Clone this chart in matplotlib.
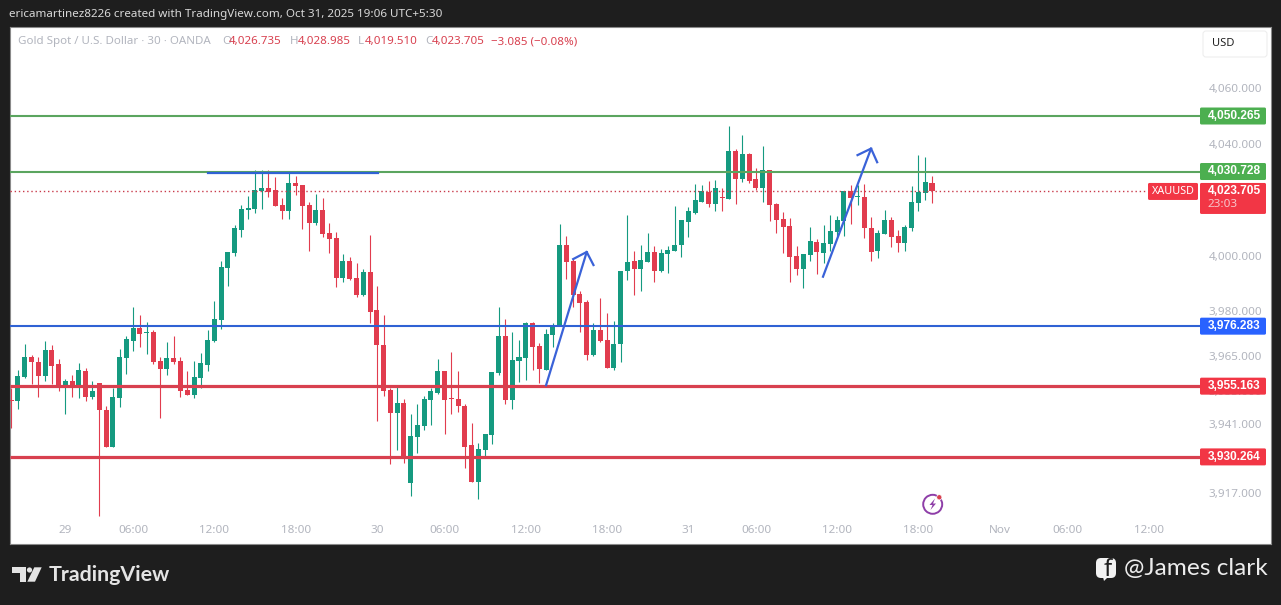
import matplotlib
matplotlib.use("Agg")
from matplotlib import pyplot as plt
from matplotlib.patches import FancyBboxPatch, Circle, Polygon, Rectangle

plt.rcParams['font.family'] = ['Noto Sans', 'DejaVu Sans']

opens = [3950.1,3949.8,3958.3,3965.5,3963.7,3958.8,3967.9,3963.0,3954.6,3956.9,3955.6,3960.5,3951.4,3956.2,3946.8,3933.9,3951.0,3965.1,3971.1,3975.7,3974.0,3974.3,3964.1,3961.3,3965.1,3964.1,3953.9,3952.1,3958.1,3962.7,
         3971.0,3978.5,3996.8,4002.1,4010.2,4017.2,4017.6,4024.0,4025.0,4024.2,4019.0,4016.9,4026.7,4026.0,4019.0,4012.6,4017.2,4009.1,4007.4,3993.3,3999.3,3993.3,3987.3,3995.4,3982.0,3969.7,3953.9,3945.8,3949.3,3921.1,
         3937.3,3941.2,3950.3,3952.8,3960.5,3950.7,3950.7,3948.2,3934.5,3921.5,3932.7,3938.0,3959.7,3972.9,3950.3,3964.1,3965.1,3977.4,3969.3,3960.9,3973.2,3976.7,4004.9,3999.3,3987.6,3984.8,3966.2,3975.0,3971.5,3961.6,
         3970.0,3995.7,3999.3,3996.4,3998.9,4002.4,3995.7,4001.7,4002.8,4004.9,4013.0,4016.2,4020.0,4023.5,4019.3,4021.6,4021.1,4038.0,4028.1,4036.9,4028.1,4024.9,4031.3,4019.3,4014.0,4011.6,4001.0,3996.4,4001.4,4005.9,
         4002.1,4005.2,4009.5,4013.3,4023.9,4021.6,4021.8,4010.9,4002.8,4008.8,4013.7,4008.1,4005.6,4010.9,4019.7,4023.2,4026.735]
highs = [3954.4,3960.9,3970.0,3966.2,3965.6,3971.1,3969.7,3964.7,3957.6,3959.1,3963.2,3961.5,3956.9,3956.4,3948.2,3954.4,3968.2,3972.9,3983.1,3980.3,3977.7,3975.0,3965.5,3970.8,3972.9,3965.5,3960.5,3964.1,3966.9,3975.0,
         3985.2,3999.3,4002.4,4011.8,4019.0,4022.1,4031.3,4031.3,4031.3,4028.8,4021.4,4030.7,4029.2,4026.0,4020.0,4022.8,4021.4,4012.6,4009.5,4001.7,4000.7,3998.6,3996.4,4008.4,3990.5,3980.3,3954.6,3954.9,3950.7,3945.4,
         3948.9,3951.8,3954.6,3964.8,3960.5,3967.2,3960.5,3948.9,3942.2,3935.2,3938.4,3960.2,3983.1,3978.8,3974.3,3971.5,3977.8,3977.8,3970.4,3975.3,3977.4,4012.3,4008.0,4000.0,3988.7,3985.5,3977.4,3986.2,3981.0,3978.1,
         3995.7,4015.4,4002.8,4004.9,4009.1,4004.5,4003.5,4004.5,4018.6,4013.7,4018.3,4026.4,4026.0,4027.4,4027.8,4024.9,4046.8,4038.7,4043.6,4037.3,4032.0,4039.7,4031.3,4019.7,4016.5,4014.4,4004.5,4001.7,4011.2,4007.0,
         4011.9,4015.4,4015.1,4023.9,4026.0,4026.0,4026.4,4014.8,4010.2,4017.2,4014.8,4010.2,4011.9,4025.7,4036.6,4035.9,4028.985]
lows = [3940.4,3947.3,3958.0,3956.0,3951.5,3957.1,3956.0,3953.3,3945.4,3951.5,3951.0,3950.1,3950.7,3909.3,3933.9,3933.9,3948.0,3959.5,3967.6,3969.1,3966.5,3962.8,3944.0,3959.1,3963.0,3951.4,3952.1,3951.0,3954.6,3960.5,
        3970.8,3975.3,3990.5,4001.0,4007.7,4014.0,4016.2,4017.6,4021.8,4018.6,4014.0,4014.0,4022.5,4010.5,4002.8,4011.9,4007.8,4002.1,3990.1,3991.9,3992.6,3986.6,3987.0,3977.4,3943.0,3951.8,3927.8,3932.7,3928.2,3916.6,
        3931.7,3939.8,3941.5,3952.5,3938.4,3945.4,3946.1,3926.4,3921.5,3915.5,3930.6,3934.9,3959.1,3948.9,3947.2,3956.7,3957.4,3960.9,3956.3,3960.9,3969.0,3976.7,3992.9,3983.1,3974.3,3964.4,3965.8,3970.8,3961.6,3960.9,
        3963.7,3992.6,3987.3,3988.7,3998.7,3991.9,3995.4,3995.0,4002.8,4000.7,4007.7,4015.8,4020.0,4018.3,4016.9,4016.9,4021.1,4019.3,4027.1,4026.7,4024.2,4020.0,4013.3,4009.1,4002.1,3991.9,3994.3,3989.8,3999.3,3994.7,
        3998.6,4002.8,4008.0,4008.0,4012.3,4019.0,4007.4,3999.3,4000.3,4008.8,4004.2,4002.4,4002.8,4009.8,4016.9,4020.7,4019.51]
closes = [3949.9,3958.8,3965.5,3963.5,3958.8,3967.9,3962.4,3954.6,3956.9,3955.0,3960.9,3951.4,3953.5,3946.6,3933.9,3951.4,3965.5,3971.8,3975.7,3973.6,3974.3,3963.7,3961.3,3965.1,3963.7,3953.5,3952.1,3958.4,3963.4,3971.5,
          3978.8,3997.1,4002.4,4010.9,4017.6,4017.9,4024.2,4025.0,4023.5,4018.6,4016.9,4026.7,4025.6,4018.6,4012.6,4017.2,4008.8,4007.0,3993.3,3999.3,3992.8,3987.3,3995.4,3981.3,3969.7,3953.5,3945.8,3949.3,3929.9,3937.7,
          3941.5,3950.7,3953.5,3960.5,3950.3,3950.5,3948.2,3933.8,3921.5,3933.1,3938.4,3960.2,3972.9,3950.3,3964.4,3965.5,3977.4,3969.0,3961.3,3973.6,3976.7,4004.9,3998.9,3987.3,3984.5,3966.2,3975.0,3971.1,3961.6,3970.0,
          3995.7,3998.8,3996.4,3999.6,4002.4,3995.7,4002.1,4003.1,4004.9,4013.7,4016.9,4020.7,4023.9,4019.3,4024.9,4021.3,4038.0,4028.1,4036.9,4027.4,4024.9,4031.3,4019.0,4013.7,4011.2,4000.7,3996.4,4001.7,4006.3,4002.4,
          4005.6,4009.8,4013.7,4023.9,4021.4,4021.8,4010.9,4002.4,4009.1,4013.7,4007.7,4005.6,4011.2,4020.0,4023.5,4027.1,4023.705]

# the scale's labels do not sit exactly where their printed value falls
price_ticks = [4060.3, 4040.3, 4001, 3981.5, 3965.8, 3953.3, 3942, 3917.6]
price_labels = ["4,060.000", "4,040.000", "4,000.000", "3,980.000", "3,965.000", "3,953.000", "3,941.000", "3,917.000"]
time_ticks = [8, 18, 30, 42, 54, 64, 76, 88, 100, 110, 122, 134, 146, 156, 168]
time_labels = ["29", "06:00", "12:00", "18:00", "30", "06:00", "12:00", "18:00", "31", "06:00", "12:00", "18:00", "Nov", "06:00", "12:00"]

level_prices = [4050.265, 4030.728, 3976.283, 3955.163, 3930.264]
level_labels = ["4,050.265", "4,030.728", "3,976.283", "3,955.163", "3,930.264"]
level_colors = ["#5ba55f", "#5ba55f", "#2f62d4", "#d8404f", "#d8404f"]
level_tags = ["#4caf50", "#4caf50", "#2962ff", "#f23645", "#f23645"]
level_widths = [1.5, 1.5, 1.5, 2.3, 2.3]

last_price = 4023.705
top_line_x = [29, 54.1]
top_line_y = [4030.2, 4030.2]
arrow1_x = [79, 85]
arrow1_y = [3955.5, 4002.4]
arrow1_head_x = [83, 85, 86]
arrow1_head_y = [3999.9, 4002.4, 3997.8]
arrow2_x = [119.9, 127]
arrow2_y = [3993.7, 4038.8]
arrow2_head_x = [125, 127, 127.9]
arrow2_head_y = [4036.5, 4038.8, 4034.0]

GREEN = "#159a80"
RED = "#e13c4e"
DARK = "#1e1e1e"
GRAY = "#b2b5be"

fig = plt.figure(figsize=(12.81, 6.05), dpi=100, facecolor=DARK)
ax = fig.add_axes([10/1281, (605-544)/605, 1261/1281, 517/605], facecolor="white")

xs = list(range(len(opens)))
colors = [GREEN if c >= o else RED for o, c in zip(opens, closes)]
ax.vlines(xs, lows, highs, colors=colors, linewidth=0.8, zorder=2)
bottoms = [min(o, c) for o, c in zip(opens, closes)]
heights = [max(abs(c - o), 0.35) for o, c in zip(opens, closes)]
ax.bar(xs, heights, bottom=bottoms, width=0.74, color=colors, linewidth=0, zorder=3)

ax.set_xlim(-0.18, 186.07)
ax.set_ylim(3899.6, 4081.6)

# level lines stop at the price tags
for p, col, w in zip(level_prices, level_colors, level_widths):
    ax.plot([-0.18, 175.6], [p, p], color=col, linewidth=w, zorder=4, solid_capstyle="butt")
ax.plot([-0.18, 168], [last_price, last_price], color="#c93a4a", linewidth=1, linestyle=(0, (1, 2)), zorder=4)
ax.plot(top_line_x, top_line_y, color="#2f62d4", linewidth=1.6, zorder=5)
for lx, ly in [(arrow1_x, arrow1_y), (arrow1_head_x, arrow1_head_y), (arrow2_x, arrow2_y), (arrow2_head_x, arrow2_head_y)]:
    ax.plot(lx, ly, color="#3a62d8", linewidth=1.6, zorder=5)

ax.yaxis.tick_right()
ax.set_yticks(price_ticks, price_labels)
ax.set_xticks(time_ticks, time_labels)
ax.tick_params(axis="y", length=0, pad=-45, labelsize=8.4, labelcolor=GRAY)
ax.tick_params(axis="x", length=0, pad=-14, labelsize=8.4, labelcolor=GRAY)
for lab in ax.get_xticklabels():
    lab.set_fontweight("bold" if lab.get_text() == "Nov" else "normal")
for s in ax.spines.values():
    s.set_color("#8a8a8a")
    s.set_linewidth(0.8)

# overlay in pixel coordinates for tags, header and logos
ov = fig.add_axes([0, 0, 1, 1])
ov.set_xlim(0, 1281)
ov.set_ylim(605, 0)
ov.axis("off")
ov.patch.set_visible(False)


def price_y(p):
    return 605 - ax.transData.transform((0, p))[1]


def tag(x, y, w, h, color, text):
    ov.add_patch(FancyBboxPatch((x + 1, y + 1), w - 2, h - 2, boxstyle="round,pad=1,rounding_size=1.5", fc=color, ec="none", zorder=6))
    ov.text(x + 8, y + 8.2, text, color="white", fontsize=8.6, fontweight="bold", family=["Liberation Sans"], va="center", zorder=7)


for p, lab, col in zip(level_prices, level_labels, level_tags):
    tag(1200, price_y(p) - 8.5, 66, 17, col, lab)

y = price_y(last_price)
ov.add_patch(FancyBboxPatch((1201, y - 7.5), 64, 29, boxstyle="round,pad=1,rounding_size=1.5", fc="#f23645", ec="none", zorder=6))
ov.text(1208, y - 0.5, "4,023.705", color="white", fontsize=8.6, fontweight="bold", family=["Liberation Sans"], va="center", zorder=7)
ov.text(1208, y + 13, "23:03", color="#f7c6cb", fontsize=8.4, va="center", zorder=7)
ov.add_patch(FancyBboxPatch((1149, y - 7.5), 48, 15, boxstyle="round,pad=1,rounding_size=1.5", fc="#f23645", ec="none", zorder=6))
ov.text(1173, y, "XAUUSD", color="white", fontsize=7.8, ha="center", va="center", zorder=7)

ov.add_patch(FancyBboxPatch((1205, 33), 60, 22, boxstyle="round,pad=2,rounding_size=3", fc="white", ec="#eeeeee", lw=0.8, zorder=6))
ov.text(1212, 44, "USD", color="#222222", fontsize=8, va="center", zorder=7)

ov.text(9, 14, "ericamartinez8226 created with TradingView.com, Oct 31, 2025 19:06 UTC+5:30", color="#d8d8d8", fontsize=8.4, va="center")

legend_gray = [(18, "Gold Spot / U.S. Dollar · 30 · OANDA"), (222, "O"), (290, "H"), (358, "L"), (425, "C")]
legend_red = [(229, "4,026.735"), (298, "4,028.985"), (365, "4,019.510"), (432, "4,023.705"), (491, "−3.085 (−0.08%)")]
for lx, s in legend_gray:
    ov.text(lx, 41.5, s, color=GRAY, fontsize=8.3, va="center")
for lx, s in legend_red:
    ov.text(lx, 41.5, s, color="#d8404f", fontsize=8.3, va="center")

# event marker
ov.add_patch(Circle((932.7, 504.3), 9.5, fc="white", ec="#8e3ea8", lw=1.4, zorder=6))
ov.add_patch(Polygon([(935, 498.5), (929.5, 505), (932.5, 505), (930.5, 510), (936, 503.5), (933, 503.5)], fc="#8e3ea8", ec="none", zorder=7))
ov.add_patch(Circle((939.3, 497.3), 2.6, fc="#d8404f", ec="white", lw=0.5, zorder=8))

# TradingView logo
logo = "#e4e4e4"
ov.add_patch(Rectangle((12.3, 567.3), 13.7, 6, fc=logo, ec="none"))
ov.add_patch(Rectangle((20, 567.3), 6, 14.4, fc=logo, ec="none"))
ov.add_patch(Circle((29.5, 570), 2.6, fc=logo, ec="none"))
ov.add_patch(Polygon([(34.3, 567.3), (41.7, 567.3), (35, 581.7), (27.3, 581.7)], fc=logo, ec="none"))
ov.text(48.5, 575, "TradingView", color=logo, fontsize=15.4, fontweight="bold", family=["Lato", "DejaVu Sans"], va="center")

# facebook mark and handle
ov.add_patch(FancyBboxPatch((1099, 561), 14, 14, boxstyle="round,pad=3,rounding_size=5", fc="#f2f2f2", ec="none"))
ov.add_patch(Polygon([(1103, 577), (1108, 577), (1104, 581)], fc="#f2f2f2", ec="none"))
ov.text(1107.5, 569.5, "f", color=DARK, fontsize=17, fontweight="bold", ha="center", va="center")
ov.text(1124, 568.5, "@James clark", color="#ececec", fontsize=17.6, family=["Lato", "DejaVu Sans"], va="center")

fig.savefig("out.png", dpi=100, facecolor=DARK)
